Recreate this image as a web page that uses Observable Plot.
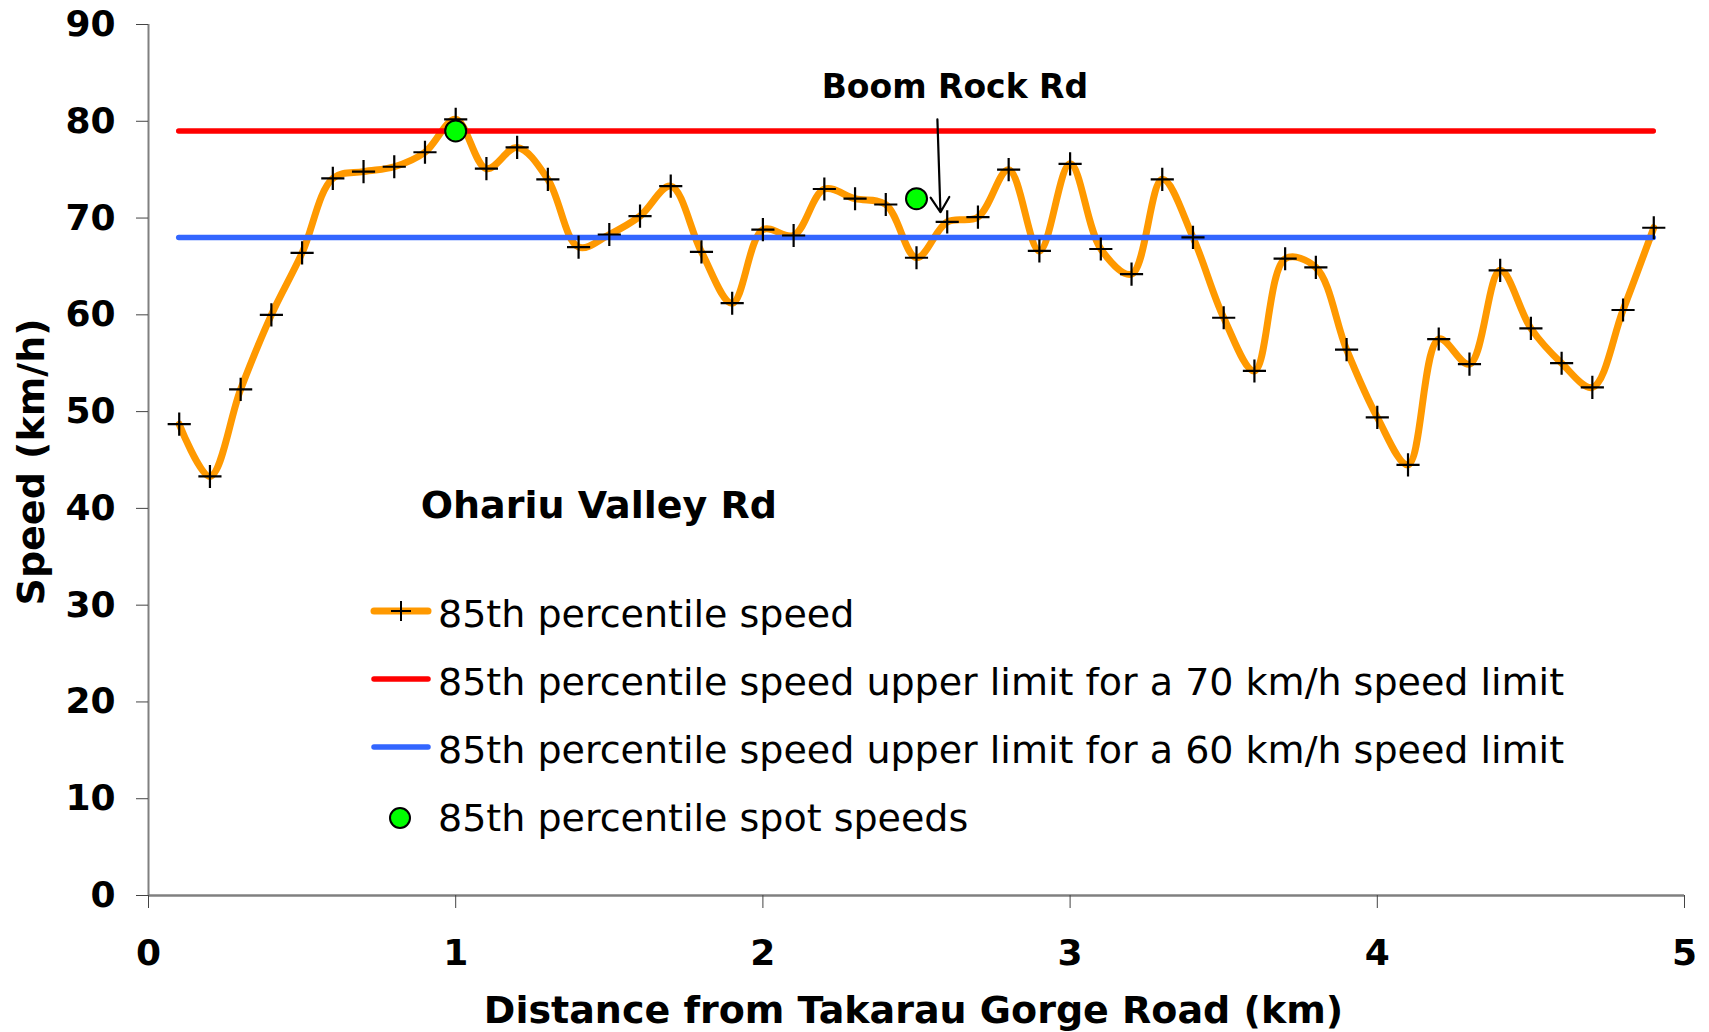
<!DOCTYPE html>
<html><head><meta charset="utf-8">
<script src="https://cdn.jsdelivr.net/npm/d3@7"></script>
<script src="https://cdn.jsdelivr.net/npm/@observablehq/plot@0.6"></script>
<style>
body{margin:0;background:#fff;}
#wrap{position:relative;width:1709px;height:1032px;}
#legend{position:absolute;left:371px;top:580px;font-family:"DejaVu Sans",Verdana,sans-serif;font-size:38px;color:#000;}
.row{display:flex;align-items:center;height:68px;white-space:nowrap;}
.row svg{margin-right:7px;flex:none;}
</style></head><body><div id="wrap"></div>
<script>
// ---- data ----
const distance = [0.1,0.2,0.3,0.4,0.5,0.6,0.7,0.8,0.9,1.0,
  1.1,1.2,1.3,1.4,1.5,1.6,1.7,1.8,1.9,2.0,
  2.1,2.2,2.3,2.4,2.5,2.6,2.7,2.8,2.9,3.0,
  3.1,3.2,3.3,3.4,3.5,3.6,3.7,3.8,3.9,4.0,
  4.1,4.2,4.3,4.4,4.5,4.6,4.7,4.8,4.9];
const speed85 = [48.7,43.3,52.3,60.0,66.4,74.1,74.8,75.3,76.8,80.2,
  75.1,77.3,74.0,67.0,68.3,70.2,73.3,66.5,61.2,68.8,
  68.2,73.0,72.0,71.4,65.9,69.6,70.1,75.0,66.6,75.6,
  66.8,64.2,74.0,68.0,59.7,54.2,65.8,64.9,56.4,49.4,
  44.5,57.5,54.9,64.6,58.6,55.0,52.5,60.5,69.0];
const spotDistance = [1.0, 2.5];
const spotSpeed = [79, 72];
const upperLimit70 = 79;
const upperLimit60 = 68;
const xTicks = [0,1,2,3,4,5];
const yTicks = [0,10,20,30,40,50,60,70,80,90];
const legendLabels = [
  "85th percentile speed",
  "85th percentile speed upper limit for a 70 km/h speed limit",
  "85th percentile speed upper limit for a 60 km/h speed limit",
  "85th percentile spot speeds"
];
const roadLabels = ["Ohariu Valley Rd", "Boom Rock Rd"];
const roadLabelX = [1.466, 2.625];
const roadLabelY = [40.3, 83.5];
const arrowStart = [2.568, 80.2];
const arrowEnd = [2.578, 70.6];
const xTitle = "Distance from Takarau Gorge Road (km)";
const yTitle = "Speed (km/h)";
const yTitlePos = [-0.38, 44.8];

const ORANGE = "#FF9900", RED = "#FF0000", BLUE = "#3366FF", GREEN = "#00FF00";

const series = distance.map((d, i) => ({d, v: speed85[i]}));
const spots = spotDistance.map((d, i) => ({d, v: spotSpeed[i]}));
const x0 = distance[0], x1 = distance[distance.length - 1];
const F = "DejaVu Sans, Verdana, sans-serif";

const chart = Plot.plot({
  width: 1709, height: 1032,
  marginLeft: 148, marginRight: 25, marginTop: 24, marginBottom: 137,
  style: {fontFamily: F, background: "#fff", overflow: "visible"},
  x: {domain: [0, 5]},
  y: {domain: [0, 90]},
  marks: [
    Plot.ruleX([0], {stroke: "#808080", strokeWidth: 2}),
    Plot.ruleY([0], {stroke: "#808080", strokeWidth: 2.5}),
    Plot.axisY(yTicks, {tickSize: 12, tickPadding: 21, fontSize: 36, fontWeight: "bold", stroke: "#444", fill: "#000", label: null, tickFormat: d3.format("d")}),
    Plot.axisX(xTicks, {tickSize: 13, tickPadding: 31, fontSize: 36, fontWeight: "bold", stroke: "#444", fill: "#000", label: null, tickFormat: d3.format("d")}),
    Plot.line(series, {x: "d", y: "v", curve: "catmull-rom", stroke: ORANGE, strokeWidth: 7, strokeLinejoin: "round"}),
    Plot.ruleY([upperLimit70], {x1: x0, x2: x1, stroke: RED, strokeWidth: 5.5, strokeLinecap: "round"}),
    Plot.ruleY([upperLimit60], {x1: x0, x2: x1, stroke: BLUE, strokeWidth: 5.5, strokeLinecap: "round"}),
    Plot.dot(series, {x: "d", y: "v", symbol: "plus", r: 7.5, stroke: "#000", strokeWidth: 2.2}),
    Plot.dot(spots, {x: "d", y: "v", r: 10.5, fill: GREEN, stroke: "#000", strokeWidth: 2}),
    Plot.arrow([0], {x1: () => arrowStart[0], y1: () => arrowStart[1], x2: () => arrowEnd[0], y2: () => arrowEnd[1],
      stroke: "#000", strokeWidth: 2.2, headLength: 12, headAngle: 64}),
    Plot.text(roadLabels, {x: (d, i) => roadLabelX[i], y: (d, i) => roadLabelY[i], text: d => d,
      textAnchor: "middle",
      fontSize: (d, i) => i === 0 ? 38 : 33, fontWeight: "bold", fill: "#000", lineAnchor: "middle"}),
    Plot.text([xTitle], {frameAnchor: "bottom", dy: 115, dx: -3, fontSize: 38, fontWeight: "bold", fill: "#000", lineAnchor: "middle"}),
    Plot.text([yTitle], {x: () => yTitlePos[0], y: () => yTitlePos[1], rotate: -90, fontSize: 38, fontWeight: "bold", fill: "#000", lineAnchor: "middle", textAnchor: "middle"})
  ]
});

const wrap = document.getElementById("wrap");
wrap.appendChild(chart);

// legend overlay
const legend = document.createElement("div");
legend.id = "legend";
const swatches = [
  `<line x1="3" y1="9" x2="57" y2="9" stroke="${ORANGE}" stroke-width="7" stroke-linecap="round"/><line x1="20" y1="9" x2="40" y2="9" stroke="#000" stroke-width="2"/><line x1="30" y1="-1" x2="30" y2="19" stroke="#000" stroke-width="2"/>`,
  `<line x1="3" y1="9" x2="57" y2="9" stroke="${RED}" stroke-width="5.5" stroke-linecap="round"/>`,
  `<line x1="3" y1="9" x2="57" y2="9" stroke="${BLUE}" stroke-width="5.5" stroke-linecap="round"/>`,
  `<circle cx="29" cy="12" r="10" fill="${GREEN}" stroke="#000" stroke-width="2"/>`
];
legendLabels.forEach((lab, i) => {
  const row = document.createElement("div");
  row.className = "row";
  row.innerHTML = `<svg width="60" height="24" viewBox="0 0 60 24" style="overflow:visible">${swatches[i]}</svg><span>${lab}</span>`;
  legend.appendChild(row);
});
wrap.appendChild(legend);
</script></body></html>
